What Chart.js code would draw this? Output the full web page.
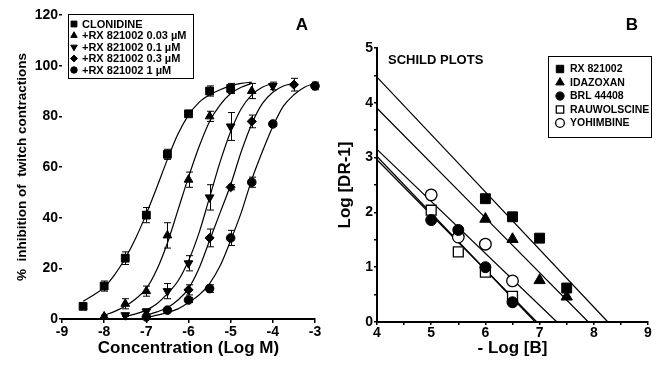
<!DOCTYPE html>
<html>
<head>
<meta charset="utf-8">
<script src="https://cdn.jsdelivr.net/npm/chart.js@4.4.1/dist/chart.umd.min.js"></script>
<style>
  html, body { margin: 0; padding: 0; background: #fff; }
  #wrap { position: relative; width: 660px; height: 369px; }
  canvas { position: absolute; top: 0; }
  #plotA { left: 0; }
  #plotB { left: 330px; }
</style>
</head>
<body>
<div id="wrap">
  <canvas id="plotA" width="330" height="369"></canvas>
  <canvas id="plotB" width="330" height="369"></canvas>
</div>
<script>
// ---- panel A : clonidine curves, mean +/- sem ----
const cloX = [-8.5, -8, -7.5, -7, -6.5, -6, -5.5, -5];
const cloY = [5, 13, 24, 41, 65, 81, 90, 91];
const cloErr = [1, 2, 2.5, 3, 2, 1, 2, 2];

const rx003X = [-8, -7.5, -7, -6.5, -6, -5.5, -4.5];
const rx003Y = [1, 6, 11, 33, 55, 80, 90];
const rx003Err = [0.5, 2, 2, 5, 3, 2, 3];

const rx01X = [-7.5, -7, -6.5, -6, -5.5, -5, -4];
const rx01Y = [1.5, 3, 11, 22, 48, 76, 92];
const rx01Err = [0.5, 1, 3, 3, 5, 5.5, 1.5];

const rx03X = [-6, -5.5, -5, -4.5, -3.5];
const rx03Y = [11.5, 32, 52, 78, 92.5];
const rx03Err = [2, 3.5, 1, 2.5, 2.5];

const rx1X = [-7, -6.5, -6, -5.5, -5, -4.5, -4, -3];
const rx1Y = [0.8, 3.5, 7.5, 12, 32, 54, 77, 92];
const rx1Err = [0.3, 1, 1, 1.5, 3, 2, 1, 1.5];

// fitted curves as drawn in the figure
const cloFitX = [-8.5, -8.25, -8, -7.75, -7.5, -7.25, -7, -6.75, -6.5, -6.25, -6, -5.75, -5.5, -5.25, -5, -4.75, -4.5];
const cloFitY = [7, 9.5, 12.5, 17.5, 24, 32, 41.5, 52, 63, 73, 80.5, 85.5, 88.5, 90.5, 92, 93, 93.5];
const rx003FitX = [-8, -7.75, -7.5, -7.25, -7, -6.75, -6.5, -6.25, -6, -5.75, -5.5, -5.25, -5, -4.75, -4.5];
const rx003FitY = [1.5, 3, 5, 8, 12, 19.5, 30, 43, 56, 68, 78, 84.5, 89, 91.5, 93];
const rx01FitX = [-7.5, -7.25, -7, -6.75, -6.5, -6.25, -6, -5.75, -5.5, -5.25, -5, -4.75, -4.5, -4.25, -4];
const rx01FitY = [1, 2, 3.5, 6, 10, 15, 23, 34, 48, 62, 74, 83, 88.5, 91.5, 93];
const rx03FitX = [-7, -6.75, -6.5, -6.25, -6, -5.75, -5.5, -5.25, -5, -4.75, -4.5, -4.25, -4, -3.75, -3.5];
const rx03FitY = [1.5, 2.8, 4.5, 7.5, 12, 20, 31, 42, 53, 66, 77, 85, 89.5, 92, 93];
const rx1FitX = [-7, -6.75, -6.5, -6.25, -6, -5.75, -5.5, -5.25, -5, -4.75, -4.5, -4.25, -4, -3.75, -3.5, -3.25, -3];
const rx1FitY = [0.5, 1.5, 2.5, 4, 6.5, 9.5, 14, 21, 31, 42, 55, 66, 76, 84, 88.5, 91.5, 93];

// ---- panel B : schild plots ----
const rxbX = [6, 6.5, 7, 7.5];
const rxbY = [2.25, 1.92, 1.53, 0.62];
const idaX = [6, 6.5, 7, 7.5];
const idaY = [1.88, 1.51, 0.76, 0.46];
const brlX = [5, 5.5, 6, 6.5];
const brlY = [1.86, 1.68, 1.0, 0.36];
const rauX = [5, 5.5, 6, 6.5];
const rauY = [2.04, 1.28, 0.91, 0.47];
const yohX = [5, 5.5, 6, 6.5];
const yohY = [2.32, 1.55, 1.42, 0.75];

// regression lines: value at -log[B] = 4 and the x intercept
const rxLineX = [4, 8.26], rxLineY = [4.47, 0];
const idaLineX = [4, 7.9], idaLineY = [3.9, 0];
const yohLineX = [4, 7.32], yohLineY = [3.15, 0];
const brlLineX = [4, 6.92], brlLineY = [3.02, 0];
const rauLineX = [4, 6.95], rauLineY = [2.96, 0];

const FONT = "'Liberation Sans', Arial, Helvetica, sans-serif";
Chart.defaults.font.family = FONT;
Chart.defaults.font.weight = 'bold';
Chart.defaults.color = '#000';

function pts(xs, ys) {
    return xs.map((x, i) => ({ x: x, y: ys[i] }));
}

function markers(label, xs, ys, style, r, extra) {
    return Object.assign({
        label: label,
        data: pts(xs, ys),
        pointStyle: style,
        pointRadius: r,
        backgroundColor: '#000',
        borderColor: '#000',
        borderWidth: 1,
        showLine: false,
        clip: false,
        order: 0
    }, extra || {});
}

function curve(xs, ys) {
    return {
        data: pts(xs, ys),
        showLine: true,
        pointRadius: 0,
        borderColor: '#000',
        borderWidth: 1.2,
        cubicInterpolationMode: 'monotone',
        fill: false,
        clip: false,
        order: 1
    };
}

// error bars, legend box and loose labels
const decor = {
    id: 'decor',
    beforeDatasetsDraw(chart) {
        const { ctx, scales: { x, y } } = chart;
        ctx.save();
        ctx.strokeStyle = '#000';
        ctx.lineWidth = 1;
        chart.data.datasets.forEach(ds => {
            if (!ds.errors) return;
            ds.data.forEach((p, i) => {
                const e = ds.errors[i];
                if (!e) return;
                const px = Math.round(x.getPixelForValue(p.x)) + 0.5;
                const top = y.getPixelForValue(p.y + e);
                const bot = y.getPixelForValue(p.y - e);
                ctx.beginPath();
                ctx.moveTo(px, top); ctx.lineTo(px, bot);
                ctx.moveTo(px - 3.5, top); ctx.lineTo(px + 3.5, top);
                ctx.moveTo(px - 3.5, bot); ctx.lineTo(px + 3.5, bot);
                ctx.stroke();
            });
        });
        ctx.restore();
    },
    afterDraw(chart, args, opts) {
        const ctx = chart.ctx;
        ctx.save();
        const lg = opts.legend;
        if (lg) {
            ctx.lineWidth = 1;
            ctx.strokeStyle = '#000';
            ctx.strokeRect(lg.x + 0.5, lg.y + 0.5, lg.w, lg.h);
            ctx.font = lg.font;
            ctx.textBaseline = 'middle';
            ctx.textAlign = 'left';
            let row = 0;
            chart.data.datasets.forEach(ds => {
                if (!ds.label) return;
                const cy = lg.y + lg.first + row * lg.step;
                ctx.fillStyle = ds.backgroundColor;
                ctx.strokeStyle = ds.borderColor;
                ctx.lineWidth = ds.borderWidth;
                Chart.helpers.drawPoint(ctx, {
                    pointStyle: ds.pointStyle,
                    rotation: ds.rotation || 0,
                    radius: ds.pointRadius * lg.scale,
                    borderWidth: ds.borderWidth
                }, lg.x + lg.markerX, cy);
                ctx.fillStyle = '#000';
                ctx.fillText(ds.label, lg.x + lg.textX, cy + 0.5);
                row++;
            });
        }
        (opts.texts || []).forEach(t => {
            ctx.font = t.font;
            ctx.fillStyle = '#000';
            ctx.textAlign = t.align || 'center';
            ctx.textBaseline = 'middle';
            ctx.fillText(t.text, t.x, t.y);
        });
        ctx.restore();
    }
};

const tickGrid = { display: true, drawOnChartArea: false, drawTicks: true, tickLength: 4, color: '#000', lineWidth: 1.5 };

// ---------- panel A ----------
const dsA = [
    Object.assign(markers('CLONIDINE', cloX, cloY, 'rect', 5.5), { errors: cloErr }),
    Object.assign(markers('+RX 821002 0.03 \u00b5M', rx003X, rx003Y, 'triangle', 5), { errors: rx003Err }),
    Object.assign(markers('+RX 821002 0.1 \u00b5M', rx01X, rx01Y, 'triangle', 5, { rotation: 180 }), { errors: rx01Err }),
    Object.assign(markers('+RX 821002 0.3 \u00b5M', rx03X, rx03Y, 'rectRot', 4.6), { errors: rx03Err }),
    Object.assign(markers('+RX 821002 1 \u00b5M', rx1X, rx1Y, 'circle', 4.3), { errors: rx1Err }),
    curve(cloFitX, cloFitY),
    curve(rx003FitX, rx003FitY),
    curve(rx01FitX, rx01FitY),
    curve(rx03FitX, rx03FitY),
    curve(rx1FitX, rx1FitY)
];

new Chart(document.getElementById('plotA').getContext('2d'), {
    type: 'scatter',
    data: { datasets: dsA },
    options: {
        responsive: false,
        animation: false,
        events: [],
        layout: { padding: { top: 15, right: 15, left: 0, bottom: 0 } },
        plugins: {
            legend: { display: false },
            tooltip: { enabled: false },
            decor: {
                legend: { x: 68, y: 14, w: 125, h: 64, first: 10, step: 11.5, markerX: 6, textX: 14, scale: 0.75, font: 'bold 11px ' + FONT },
                texts: [{ text: 'A', x: 302, y: 25, font: 'bold 17px ' + FONT }]
            }
        },
        scales: {
            x: {
                type: 'linear', min: -9, max: -3,
                ticks: { stepSize: 1, padding: 1, maxRotation: 0, font: { size: 14, weight: 'bold' } },
                grid: tickGrid,
                border: { display: true, color: '#000', width: 2 },
                title: { display: true, text: 'Concentration (Log M)', font: { size: 17, weight: 'bold' }, padding: { top: 0, bottom: 10 } },
                afterFit(s) { s.height = 50; }
            },
            y: {
                min: 0, max: 120,
                ticks: { stepSize: 20, padding: 1, font: { size: 14, weight: 'bold' } },
                grid: Object.assign({}, tickGrid, { tickLength: 3 }),
                border: { display: false },
                title: { display: true, text: '%  inhibition of  twitch contractions', font: { size: 13.5, weight: 'bold' }, padding: { top: 14, bottom: 0 } },
                afterFit(s) { s.width = 62; }
            }
        }
    },
    plugins: [decor]
});

// ---------- panel B ----------
const openStyle = { backgroundColor: '#fff', borderColor: '#000', borderWidth: 1.3 };
const dsB = [
    markers('RX 821002', rxbX, rxbY, 'rect', 7),
    markers('IDAZOXAN', idaX, idaY, 'triangle', 6.5),
    markers('BRL 44408', brlX, brlY, 'circle', 5.5),
    markers('RAUWOLSCINE', rauX, rauY, 'rect', 7, openStyle),
    markers('YOHIMBINE', yohX, yohY, 'circle', 5.8, openStyle),
    curve(rxLineX, rxLineY),
    curve(idaLineX, idaLineY),
    curve(yohLineX, yohLineY),
    curve(brlLineX, brlLineY),
    curve(rauLineX, rauLineY)
];

const halfTicks = v => Number.isInteger(v) ? v : '';

new Chart(document.getElementById('plotB').getContext('2d'), {
    type: 'scatter',
    data: { datasets: dsB },
    options: {
        responsive: false,
        animation: false,
        events: [],
        layout: { padding: { top: 48, right: 12, left: 0, bottom: 0 } },
        plugins: {
            legend: { display: false },
            tooltip: { enabled: false },
            decor: {
                legend: { x: 218, y: 56, w: 103, h: 81, first: 13, step: 13.5, markerX: 12, textX: 22, scale: 0.75, font: 'bold 10.5px ' + FONT },
                texts: [
                    { text: 'B', x: 302, y: 25, font: 'bold 17px ' + FONT },
                    { text: 'SCHILD PLOTS', x: 58, y: 60, align: 'left', font: 'bold 13px ' + FONT }
                ]
            }
        },
        scales: {
            x: {
                type: 'linear', min: 4, max: 9,
                ticks: { stepSize: 0.5, padding: 0, maxRotation: 0, autoSkip: false, callback: halfTicks, font: { size: 14, weight: 'bold' } },
                grid: Object.assign({}, tickGrid, { tickLength: 3 }),
                border: { display: true, color: '#000', width: 2 },
                title: { display: true, text: '- Log [B]', font: { size: 17, weight: 'bold' }, padding: { top: 0, bottom: 10 } },
                afterFit(s) { s.height = 47; }
            },
            y: {
                min: 0, max: 5,
                ticks: { stepSize: 0.5, padding: 1, autoSkip: false, callback: halfTicks, font: { size: 14, weight: 'bold' } },
                grid: Object.assign({}, tickGrid, { tickLength: 3 }),
                border: { display: true, color: '#000', width: 2 },
                title: { display: true, text: 'Log [DR-1]', font: { size: 17, weight: 'bold' }, padding: { top: 5, bottom: 0 } },
                afterFit(s) { s.width = 47; }
            }
        }
    },
    plugins: [decor]
});
</script>
</body>
</html>
